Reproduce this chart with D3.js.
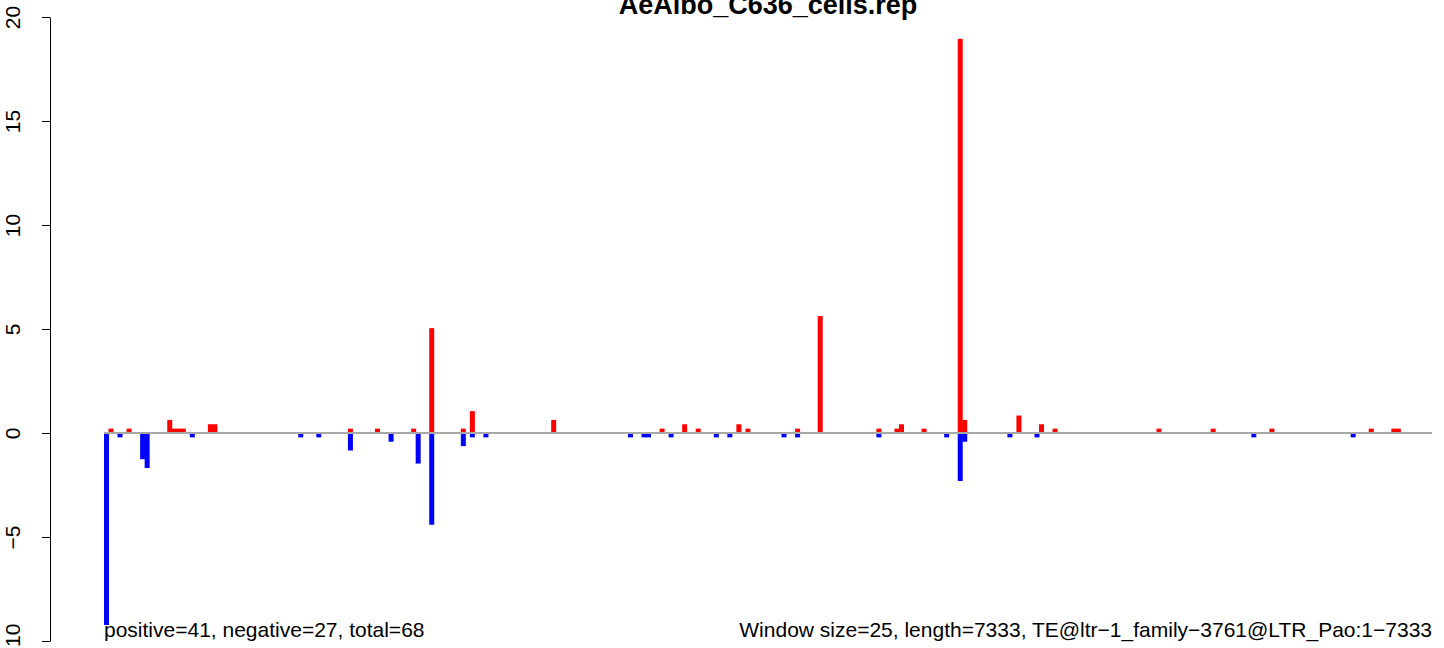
<!DOCTYPE html>
<html><head><meta charset="utf-8">
<script src="https://cdn.jsdelivr.net/npm/d3@7"></script>
<style>
body{margin:0;background:#fff}
svg{display:block}
text{font-family:"Liberation Sans",Arial,sans-serif}
</style>
</head><body>
<svg id="c" width="1444" height="648"></svg>
<script>
const title = "AeAlbo_C636_cells.rep";
const nBins = 294;
const posBins = [1,5,14,15,16,17,23,24,54,60,68,72,79,81,99,123,128,131,140,142,153,158,171,175,176,181,189,190,202,207,210,233,245,258,280,285,286];
const posValues = [0.21,0.21,0.63,0.21,0.21,0.21,0.42,0.42,0.21,0.21,0.21,5.04,0.21,1.05,0.63,0.21,0.42,0.21,0.42,0.21,0.21,5.62,0.21,0.21,0.42,0.21,18.95,0.63,0.84,0.42,0.21,0.21,0.21,0.21,0.21,0.21,0.21];
const negBins = [0,3,8,9,19,43,47,54,63,69,72,79,81,84,116,119,120,125,135,138,150,153,171,186,189,190,200,206,254,276];
const negValues = [-9.87,-0.21,-1.26,-1.68,-0.21,-0.21,-0.21,-0.84,-0.42,-1.47,-4.41,-0.63,-0.21,-0.21,-0.21,-0.21,-0.21,-0.21,-0.21,-0.21,-0.21,-0.21,-0.21,-0.21,-2.31,-0.42,-0.21,-0.21,-0.21,-0.21];
const yTicks = [-10,-5,0,5,10,15,20];
const leftNote = "positive=41, negative=27, total=68";
const rightNote = "Window size=25, length=7333, TE@ltr\u22121_family\u22123761@LTR_Pao:1\u22127333";

const svg = d3.select("#c");
const x = d3.scaleLinear().domain([0, nBins]).range([104, 1432]);
const y = d3.scaleLinear().domain([-10, 20]).range([641, 17]);
const barW = 5;

const pos = posBins.map((b,i)=>({b, v: posValues[i]}));
const neg = negBins.map((b,i)=>({b, v: negValues[i]}));

svg.append("g").selectAll("rect").data(neg).join("rect")
  .attr("x", d=>x(d.b)).attr("width", barW)
  .attr("y", y(0)).attr("height", d=>y(d.v)-y(0))
  .attr("fill", "#0000ff");
svg.append("g").selectAll("rect").data(pos).join("rect")
  .attr("x", d=>x(d.b)).attr("width", barW)
  .attr("y", d=>y(d.v)).attr("height", d=>y(0)-y(d.v))
  .attr("fill", "#ff0000");

// baseline
svg.append("line")
  .attr("x1", x(0)).attr("x2", x(nBins))
  .attr("y1", y(0)).attr("y2", y(0))
  .attr("stroke", "#a8a8a8").attr("stroke-width", 2);

// y axis
const fmt = d => d < 0 ? "\u2212" + Math.abs(d) : String(d);
const ax = svg.append("g").attr("transform", "translate(50,0)")
  .call(d3.axisLeft(y).tickValues(yTicks).tickSize(8).tickSizeOuter(0).tickFormat(fmt));
ax.select(".domain").attr("stroke", "#000").attr("stroke-width", 1);
ax.selectAll(".tick line").attr("stroke", "#000");
ax.selectAll(".tick text")
  .attr("transform", "rotate(-90)")
  .attr("x", 0).attr("y", -30).attr("dy", 0)
  .attr("text-anchor", "middle")
  .attr("font-size", 21).attr("fill", "#000")
  .style("font-family", "'Liberation Sans', Arial, sans-serif");

// notes (white box behind left note, as in the original legend)
svg.append("rect").attr("x", 101).attr("y", 625).attr("width", 330).attr("height", 23).attr("fill", "#fff");
svg.append("text").attr("x", 104).attr("y", 637).attr("font-size", 21).attr("fill", "#000").text(leftNote);
svg.append("text").attr("x", 1432).attr("y", 637).attr("text-anchor", "end").attr("font-size", 21).attr("fill", "#000").text(rightNote);

// title
svg.append("text").attr("x", 768).attr("y", 14).attr("text-anchor", "middle")
  .attr("font-size", 27).attr("font-weight", "bold").attr("fill", "#000").text(title);
</script>
</body></html>
